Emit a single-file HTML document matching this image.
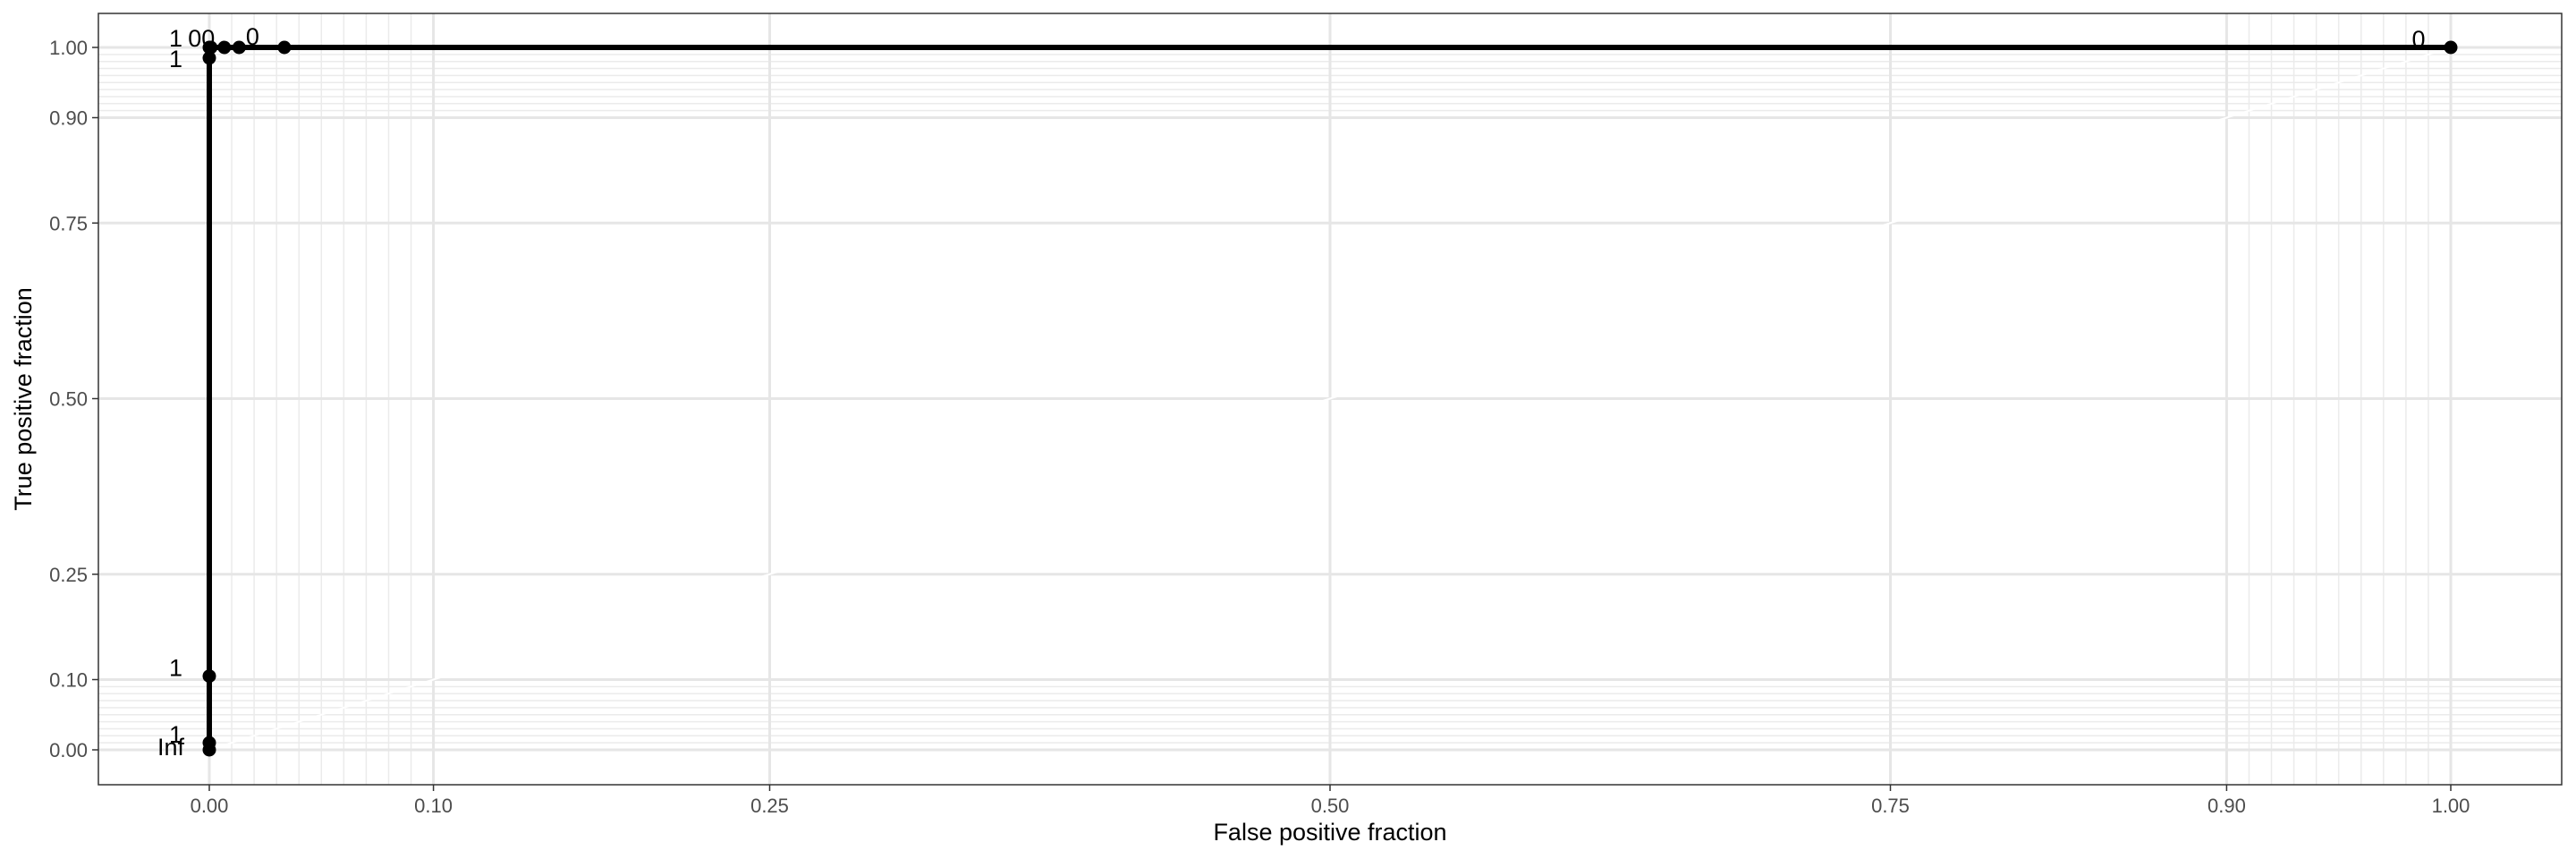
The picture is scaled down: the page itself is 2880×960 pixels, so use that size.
<!DOCTYPE html>
<html><head><meta charset="utf-8"><style>
html,body{margin:0;padding:0;background:#fff;}
svg{display:block;font-family:"Liberation Sans",sans-serif;}
</style></head><body>
<svg id="chart" width="2880" height="960" viewBox="0 0 2880 960" xmlns="http://www.w3.org/2000/svg">
<rect x="0" y="0" width="2880" height="960" fill="#fff"/>
<g id="grid"></g>
<g id="marks"></g>
<rect x="110" y="15" width="2754" height="862" fill="none" stroke="#333" stroke-width="1.5"/>
<g id="axes"></g>
<text x="1487" y="939" font-size="27" text-anchor="middle" fill="#000">False positive fraction</text>
<text transform="translate(35,446) rotate(-90)" font-size="27" text-anchor="middle" fill="#000">True positive fraction</text>
</svg>
<script>
const xTicks = [0, 0.10, 0.25, 0.50, 0.75, 0.90, 1.00];
const xTickLabels = ["0.00","0.10","0.25","0.50","0.75","0.90","1.00"];
const yTicks = [0, 0.10, 0.25, 0.50, 0.75, 0.90, 1.00];
const yTickLabels = ["0.00","0.10","0.25","0.50","0.75","0.90","1.00"];
const fpr = [0, 0, 0, 0, 0, 0.0007, 0.0067, 0.0133, 0.0335, 1];
const tpr = [0, 0.01, 0.105, 0.985, 1, 1, 1, 1, 1, 1];
const cutLabels = ["Inf","1","1","1","1","0","0","0","","0"];
const labelDx = [-28, -30, -30, -30, -30, -18, -18, 15, 0, -36];
const labelDy = [6, 0, 0, 10, -1, -1, -1, -3, 0, 0];

const NS = "http://www.w3.org/2000/svg";
const X = v => 234 + 2506 * v;
const Y = v => 838 - 785 * v;
function mk(tag, attrs, parent) {
  const e = document.createElementNS(NS, tag);
  for (const k in attrs) e.setAttribute(k, attrs[k]);
  parent.appendChild(e);
  return e;
}
const grid = document.getElementById('grid');
const marks = document.getElementById('marks');
const axes = document.getElementById('axes');
const minors = [];
for (let i = 1; i < 10; i++) { minors.push(i / 100); minors.push(0.9 + i / 100); }
minors.forEach(v => {
  const l1 = mk('line', {x1: X(v), x2: X(v), y1: 15, y2: 877, stroke: '#ebebeb', 'stroke-width': 1.5}, grid);
  
  
  const l2 = mk('line', {x1: 110, x2: 2864, y1: Y(v), y2: Y(v), stroke: '#ebebeb', 'stroke-width': 1.5}, grid);
  
  
});
xTicks.forEach((v, i) => {
  const l = mk('line', {x1: X(v), x2: X(v), y1: 15, y2: 877, stroke: '#e6e6e6', 'stroke-width': 3}, grid);
  
  
  const t = mk('line', {x1: X(v), x2: X(v), y1: 877, y2: 884, stroke: '#333', 'stroke-width': 1.5}, axes);
  
  
  const tx = mk('text', {x: X(v), y: 908, 'font-size': 22, 'text-anchor': 'middle', fill: '#4d4d4d'}, axes);
  
  
  tx.textContent = xTickLabels[i];
});
yTicks.forEach((v, i) => {
  const l = mk('line', {x1: 110, x2: 2864, y1: Y(v), y2: Y(v), stroke: '#e6e6e6', 'stroke-width': 3}, grid);
  
  
  const t = mk('line', {x1: 103, x2: 110, y1: Y(v), y2: Y(v), stroke: '#333', 'stroke-width': 1.5}, axes);
  
  
  const tx = mk('text', {x: 98, y: Y(v) + 8, 'font-size': 22, 'text-anchor': 'end', fill: '#4d4d4d'}, axes);
  
  
  tx.textContent = yTickLabels[i];
});
const diag = mk('line', {x1: X(0), y1: Y(0), x2: X(1), y2: Y(1), stroke: '#fff', 'stroke-width': 2}, marks);


const pts = fpr.map((f, i) => X(f) + ',' + Y(tpr[i])).join(' ');
const pl = mk('polyline', {points: pts, fill: 'none', stroke: '#000', 'stroke-width': 6, 'stroke-linejoin': 'round'}, marks);


fpr.forEach((f, i) => {
  const c = mk('circle', {cx: X(f), cy: Y(tpr[i]), r: 7.5, fill: '#000'}, marks);
  
  
  const t = mk('text', {x: X(f) + labelDx[i], y: Y(tpr[i]) + labelDy[i], 'font-size': 27, 'text-anchor': i >= 5 ? 'middle' : 'end', fill: '#000'}, marks);
  
  
  t.textContent = cutLabels[i];
});
</script>
</body></html>
